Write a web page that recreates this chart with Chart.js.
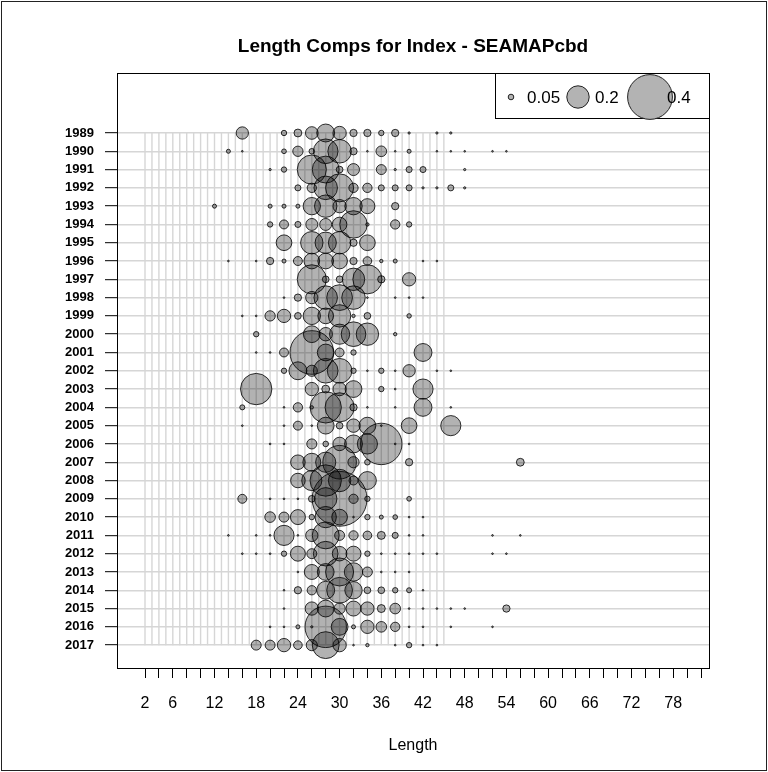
<!DOCTYPE html>
<html>
<head>
<meta charset="utf-8">
<script src="https://cdn.jsdelivr.net/npm/chart.js@4.4.1/dist/chart.umd.min.js"></script>
<style>
  html,body{margin:0;padding:0;background:#fff;}
  #wrap{position:relative;width:768px;height:772px;}
  #frame{position:absolute;left:1px;top:1px;right:1px;bottom:1px;border:1px solid #222;pointer-events:none;}
</style>
</head>
<body>
<div id="wrap">
  <canvas id="chart" width="768" height="772"></canvas>
  <div id="frame"></div>
</div>
<script>
// length comps by year, proportion per 2-cm bin (0 = none)
const years = [1989,1990,1991,1992,1993,1994,1995,1996,1997,1998,1999,2000,2001,2002,2003,
  2004,2005,2006,2007,2008,2009,2010,2011,2012,2013,2014,2015,2016,2017];
const lengthBins = [12,14,16,18,20,22,24,26,28,30,32,34,36,38,40,42,44,46,48,50,52,54,56];
const comps = [
//  12   14   16   18   20   22   24   26   28   30   32   34   36   38   40   42   44   46   48   50   52   54   56
  [  0,   0, .11,   0,   0,.048, .07,.113, .16,.119,.065,.065,.048,.065, .02,   0, .02, .02,   0,   0,   0,   0,   0], // 1989
  [  0,.036,.015,   0,   0,.042,.092, .05, .22, .21,.065,.015,.095,.015,.036,   0,.015,.015,.015,   0,.015,.015,   0], // 1990
  [  0,   0,   0,   0, .02,.048,   0, .26, .24, .06,.107,   0,.089, .02,.054,.054,   0,   0, .02,   0,   0,   0,   0], // 1991
  [  0,   0,   0,   0,   0,   0,.054,.083, .21, .25,.083,.083,.054,.054,.054, .02, .02,.054, .02,   0,   0,   0,   0], // 1992
  [.036,  0,   0,   0,.036,.036,.036,.155,  .2,.119,.155,.134,   0,.065,   0,   0,   0,   0,   0,   0,   0,   0,   0], // 1993
  [  0,   0,   0,   0,.048, .08,.054,.107,.107, .13,.245, .03,   0,.083,.048,   0,   0,   0,   0,   0,   0,   0,   0], // 1994
  [  0,   0,   0,   0,   0, .14,   0,  .2, .19,  .2,.065, .14,   0,   0,   0,   0,   0,   0,   0,   0,   0,   0,   0], // 1995
  [  0,.015,   0,.015,.065,.036, .08, .14, .14, .14,.065,.077, .03,.036,   0,.015,.015,   0,   0,   0,   0,   0,   0], // 1996
  [  0,   0,   0,   0,   0,   0,   0, .26, .06, .06,  .2, .26,.065,   0,.119,   0,   0,   0,   0,   0,   0,   0,   0], // 1997
  [  0,   0,   0,   0,   0,.015,.065, .11, .21, .23, .21,.015,   0,.015,.015,.015,   0,   0,   0,   0,   0,   0,   0], // 1998
  [  0,   0,.015,.015,.092,.119, .06,.155, .14,  .2, .03, .06,   0,   0, .04,   0,   0,   0,   0,   0,   0,   0,   0], // 1999
  [  0,   0,   0,.048,   0,   0,   0, .15, .12, .18, .22,  .2,   0, .03,   0,   0,   0,   0,   0,   0,   0,   0,   0], // 2000
  [  0,   0,   0,.015,.015, .08,   0, .39, .15, .08,.048,   0,   0,   0,   0, .16,   0,   0,   0,   0,   0,   0,   0], // 2001
  [  0,   0,   0,   0,   0,.048, .16,  .1, .22, .22,.048,.015,.048,.015, .11,   0,.015,.015,   0,   0,   0,   0,   0], // 2002
  [  0,   0,   0, .28,   0,   0,   0,.119, .07,.119, .15,   0,.048,.015,   0, .18,   0,   0,   0,   0,   0,   0,   0], // 2003
  [  0,   0,.045,   0,   0,.015,.083, .03, .28, .26,.065,.015,   0,.015,   0, .16,   0,.015,   0,   0,   0,   0,   0], // 2004
  [  0,   0,.015,   0,   0,.015, .08,.015, .15, .06, .12, .15,.015,   0, .14,   0,   0, .18,   0,   0,   0,   0,   0], // 2005
  [  0,   0,   0,   0,.015,.015,   0, .09, .05, .12, .16, .18, .37,.015,.015,   0,   0,   0,   0,   0,   0,   0,   0], // 2006
  [  0,   0,   0,   0,   0,   0, .13, .16, .18,  .3,  .1, .05,   0,   0,.065,   0,   0,   0,   0,   0,   0,   0, .07], // 2007
  [  0,   0,   0,   0,   0,   0, .13, .18, .28,  .2, .08, .16,   0,   0,   0,   0,   0,   0,   0,   0,   0,   0,   0], // 2008
  [  0,   0, .08,   0,.015,.015,.015, .06,  .2, .49,.083,.048,   0,   0,.042,   0,   0,   0,   0,   0,   0,   0,   0], // 2009
  [  0,   0,   0,   0,.095, .09,.134,.048, .19, .14,.015,.048,.036,.042,.015,.015,   0,   0,   0,   0,   0,   0,   0], // 2010
  [  0,.015,   0,.015,.015, .18,.015, .11, .24,.089,.083,.077,.071,.054,.015,.015,   0,   0,   0,   0,.015,   0,.015], // 2011
  [  0,   0,.015,.015,.015,.048,.134,.089, .22, .13,.134,.048,.015,.015,.015,.015,.015,   0,   0,   0,.015,.015,   0], // 2012
  [  0,   0,   0,   0,   0,   0,.015,.134, .15, .25,.164,.089,.015,.015,.015,   0,   0,   0,   0,   0,   0,   0,   0], // 2013
  [  0,   0,   0,   0,   0,.015,.065,.083, .16, .23,.155, .06, .06,.048,.045,.015,   0,   0,   0,   0,   0,   0,   0], // 2014
  [  0,   0,   0,   0,   0,.015,   0,.119, .15,  .1,.134,.119,.071,.095,.015,.015,.015,.015,.015,   0,   0,.065,   0], // 2015
  [  0,   0,   0,   0,.015,.015,.036, .02, .37, .15,.036,.119,.095,.083,.015,.015,   0,.015,   0,   0,.015,   0,   0], // 2016
  [  0,   0,   0,.089,.089,.119,.077,  .1, .24,.119,.015, .03,   0,.015,.048,.015,.015,   0,   0,   0,   0,   0,   0]  // 2017
];
const xTicks = Array.from({length: 41}, (_, i) => 2 + i * 2);
const xLabels = [2, 6, 12, 18, 24, 30, 36, 42, 48, 54, 60, 66, 72, 78];
const gridLengths = Array.from({length: 44}, (_, i) => 2 + i);
const legendVals = [0.05, 0.2, 0.4];

const PX_PER_UNIT = 56; // bubble radius (px) per unit of proportion
const FONT = '"Liberation Sans", Arial, Helvetica, sans-serif';

const points = [];
years.forEach((yr, i) => {
  comps[i].forEach((p, j) => {
    if (p > 0) points.push({x: lengthBins[j], y: yr, r: p * PX_PER_UNIT});
  });
});

// vertical length grid, between first and last year only
const lengthGrid = {
  id: 'lengthGrid',
  beforeDatasetsDraw(chart) {
    const {ctx, scales: {x, y}} = chart;
    const top = y.getPixelForValue(years[0]);
    const bot = y.getPixelForValue(years[years.length - 1]);
    ctx.save();
    ctx.strokeStyle = '#d6d6d6';
    ctx.lineWidth = 1.4;
    gridLengths.forEach(L => {
      const px = x.getPixelForValue(L);
      ctx.beginPath();
      ctx.moveTo(px, top);
      ctx.lineTo(px, bot);
      ctx.stroke();
    });
    ctx.restore();
  }
};

// plot box + size legend
const boxAndLegend = {
  id: 'boxAndLegend',
  afterDraw(chart) {
    const {ctx, chartArea: a} = chart;
    ctx.save();
    ctx.strokeStyle = '#000';
    ctx.lineWidth = 1;
    ctx.strokeRect(Math.round(a.left) + 0.5, Math.round(a.top) + 0.5,
      Math.round(a.right - a.left), Math.round(a.bottom - a.top));

    const bx = a.right - 214, by = a.top, bh = 45;
    ctx.strokeRect(Math.round(bx) + 0.5, Math.round(by) + 0.5, 214, bh);
    const cy = by + 24;
    const cx = [bx + 16, bx + 83, bx + 155];
    const tx = [bx + 32, bx + 100, bx + 172];
    ctx.font = '17px ' + FONT;
    ctx.textBaseline = 'middle';
    ctx.textAlign = 'left';
    legendVals.forEach((v, i) => {
      ctx.beginPath();
      ctx.arc(cx[i], cy, v * PX_PER_UNIT, 0, Math.PI * 2);
      ctx.fillStyle = '#b3b3b3';
      ctx.fill();
      ctx.strokeStyle = '#222';
      ctx.stroke();
    });
    legendVals.forEach((v, i) => {
      ctx.fillStyle = '#000';
      ctx.fillText(String(v), tx[i], cy + 1);
    });
    ctx.restore();
  }
};

new Chart(document.getElementById('chart'), {
  type: 'bubble',
  data: {
    datasets: [{
      data: points,
      backgroundColor: 'rgba(0,0,0,0.3)',
      borderColor: 'rgba(0,0,0,0.8)',
      borderWidth: 1,
      hoverRadius: 0
    }]
  },
  options: {
    responsive: false,
    animation: false,
    events: [],
    layout: {padding: {left: 0, right: 59, top: 0, bottom: 0}},
    plugins: {
      legend: {display: false},
      tooltip: {enabled: false},
      title: {
        display: true,
        fullSize: false,
        text: 'Length Comps for Index - SEAMAPcbd',
        color: '#000',
        font: {family: FONT, size: 19, weight: 'bold'},
        padding: {top: 35.6, bottom: 14.6}
      }
    },
    scales: {
      x: {
        type: 'linear',
        min: -2.03,
        max: 83.15,
        afterBuildTicks: s => { s.ticks = xTicks.map(v => ({value: v})); },
        afterFit: s => { s.height = 104; },
        border: {display: false},
        grid: {drawOnChartArea: false, drawTicks: true, tickLength: 10, tickColor: '#000', tickWidth: 1},
        ticks: {
          autoSkip: false, maxRotation: 0, color: '#000', padding: 16,
          font: {family: FONT, size: 16},
          callback: v => xLabels.includes(v) ? String(v) : ''
        },
        title: {display: true, text: 'Length', color: '#000', font: {family: FONT, size: 16}, padding: {top: 0, bottom: 17}}
      },
      y: {
        type: 'linear',
        reverse: true,
        min: 1985.72,
        max: 2018.25,
        afterBuildTicks: s => { s.ticks = years.map(v => ({value: v})); },
        afterFit: s => { s.width = 117; },
        border: {display: false},
        grid: {color: '#d6d6d6', lineWidth: 1.4, tickLength: 12, tickColor: '#000', tickWidth: 1},
        ticks: {
          autoSkip: false, color: '#000', padding: 11,
          font: {family: FONT, size: 13, weight: 'bold'},
          callback: v => String(v)
        }
      }
    }
  },
  plugins: [lengthGrid, boxAndLegend]
});
</script>
</body>
</html>
